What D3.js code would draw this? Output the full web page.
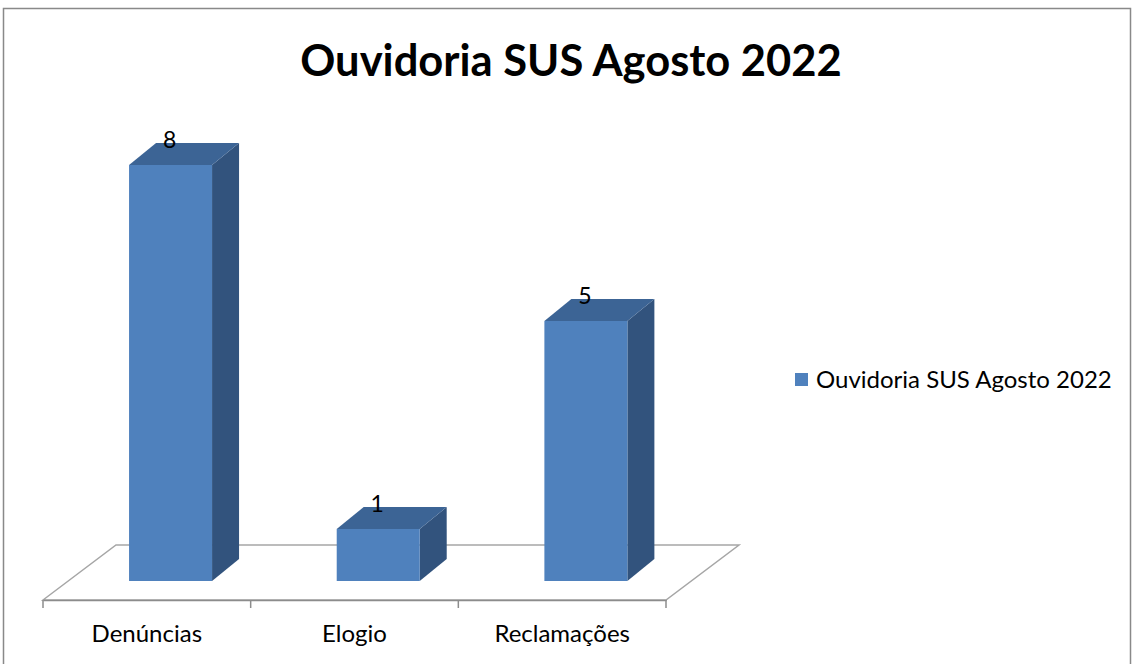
<!DOCTYPE html>
<html>
<head>
<meta charset="utf-8">
<script src="https://cdn.jsdelivr.net/npm/d3@7"></script>
<style>
  html, body { margin: 0; padding: 0; background: #fff; }
  svg { display: block; }
  text { font-family: Lato, "Open Sans", sans-serif; fill: #000; }
</style>
</head>
<body>
<svg id="chart" width="1132" height="664"></svg>
<script>
const title = "Ouvidoria SUS Agosto 2022";
const categories = ["Denúncias", "Elogio", "Reclamações"];
const values = [8, 1, 5];
const seriesName = "Ouvidoria SUS Agosto 2022";

const svg = d3.select("#chart");

// border
svg.append("rect").attr("x", 3.5).attr("y", 8.5).attr("width", 1127).attr("height", 670)
  .attr("fill", "none").attr("stroke", "#898989").attr("stroke-width", 1.5);

// title
svg.append("text").attr("x", 571).attr("y", 76).attr("text-anchor", "middle")
  .attr("font-size", 43.5).attr("font-weight", "bold").text(title);

// 3D geometry
const floorFrontY = 600, floorLeft = 43, floorRight = 666;
const depthDX = 73, depthDY = -55;
const barOffset = 19 / 55;
const barDX = 27, barDY = -22;

const x = d3.scaleBand().domain(categories).range([floorLeft, floorRight]).paddingInner(0).paddingOuter(0);
const baseY = floorFrontY + depthDY * barOffset;
const y = d3.scaleLinear().domain([0, 8]).range([baseY, 165]);

// floor
svg.append("path")
  .attr("d", `M${floorLeft},${floorFrontY} L${floorLeft + depthDX},${floorFrontY + depthDY} L${floorRight + depthDX},${floorFrontY + depthDY} L${floorRight},${floorFrontY} Z`)
  .attr("fill", "none").attr("stroke", "#a6a6a6").attr("stroke-width", 1.5);

// axis along front edge
const axis = d3.axisBottom(x).tickSize(0).tickFormat("");
const axG = svg.append("g").attr("transform", `translate(0,${floorFrontY})`).call(axis);
axG.select(".domain").attr("stroke", "#8c8c8c").attr("stroke-width", 1.5);
const tickXs = [floorLeft].concat(categories.map(c => x(c) + x.bandwidth()));
svg.append("g").selectAll("line").data(tickXs).join("line")
  .attr("x1", d => d).attr("x2", d => d)
  .attr("y1", floorFrontY).attr("y2", floorFrontY + 8)
  .attr("stroke", "#8c8c8c").attr("stroke-width", 1.5);

// category labels
svg.append("g").selectAll("text").data(categories).join("text")
  .attr("x", d => x(d) + x.bandwidth() / 2)
  .attr("y", 642)
  .attr("text-anchor", "middle")
  .attr("font-size", 24)
  .text(d => d);

// bars
const shift = depthDX * barOffset - 1.5;
const barW = 83;
const bars = svg.append("g").selectAll("g").data(categories.map((c, i) => ({c, v: values[i]}))).join("g");
bars.each(function(d) {
  const g = d3.select(this);
  const x0 = x(d.c) + x.bandwidth() / 2 + shift - barW / 2;
  const x1 = x0 + barW;
  const yt = y(d.v), yb = y(0);
  g.append("path").attr("d", `M${x1},${yt} L${x1 + barDX},${yt + barDY} L${x1 + barDX},${yb + barDY} L${x1},${yb} Z`)
    .attr("fill", "#32537d");
  g.append("path").attr("d", `M${x0},${yt} L${x0 + barDX},${yt + barDY} L${x1 + barDX},${yt + barDY} L${x1},${yt} Z`)
    .attr("fill", "#3c6495");
  g.append("rect").attr("x", x0).attr("y", yt).attr("width", barW).attr("height", yb - yt)
    .attr("fill", "#4f81bd");
  g.append("text").attr("x", x0 + barW / 2 - 1).attr("y", yt - 17)
    .attr("text-anchor", "middle").attr("font-size", 23).text(d.v);
});

// legend
const lg = svg.append("g").attr("transform", "translate(795,373)");
lg.append("rect").attr("width", 13).attr("height", 13).attr("fill", "#4f81bd");
lg.append("text").attr("x", 21).attr("y", 15).attr("font-size", 24).text(seriesName);
</script>
</body>
</html>
